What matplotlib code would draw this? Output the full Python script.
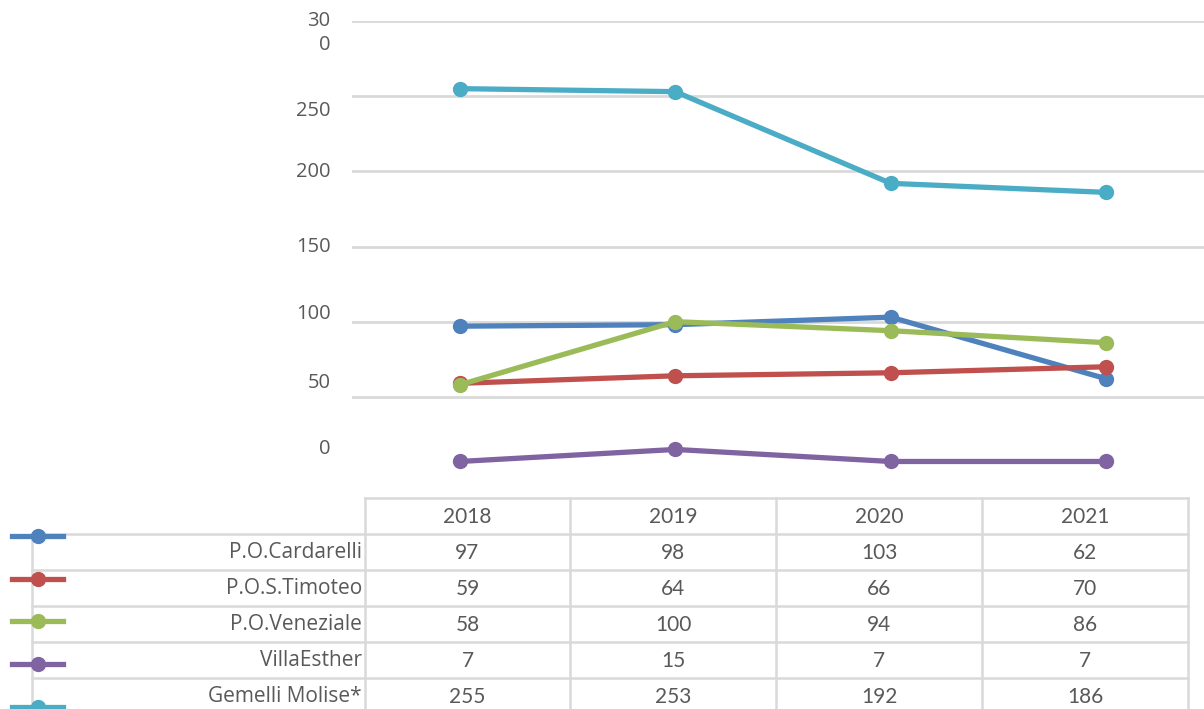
import matplotlib
matplotlib.use("Agg")
import matplotlib.pyplot as plt
from matplotlib.lines import Line2D

years = ["2018", "2019", "2020", "2021"]
series_names = ["P.O.Cardarelli", "P.O.S.Timoteo", "P.O.Veneziale", "VillaEsther", "Gemelli Molise*"]
cardarelli = [97, 98, 103, 62]
timoteo = [59, 64, 66, 70]
veneziale = [58, 100, 94, 86]
villa_esther = [7, 15, 7, 7]
gemelli = [255, 253, 192, 186]
colors = ["#4F81BD", "#C0504D", "#9BBB59", "#8064A2", "#4BACC6"]

# y labels are drawn a bit off their gridlines in the original
ytick_vals = [50, 100, 150, 200, 250, 300]
ylabel_text = ["30\n0", "250", "200", "150", "100", "50", "0"]
ylabel_pos = [292, 240, 199.5, 150, 105, 59, 15]

all_series = [cardarelli, timoteo, veneziale, villa_esther, gemelli]
W, H = 1204, 709
TXT = "#595959"
GRID = "#D9D9D9"
LABEL_FONT = ["Open Sans", "DejaVu Sans"]
NUM_FONT = ["Lato", "DejaVu Sans"]
plt.rcParams["font.family"] = LABEL_FONT

fig = plt.figure(figsize=(W / 100, H / 100), dpi=100)

# main plot area (pixel coords converted to figure fractions)
x_left, x_right = 352, 1214
y_top, y_bot = 21, 472
ax = fig.add_axes([x_left / W, 1 - y_bot / H, (x_right - x_left) / W, (y_bot - y_top) / H])
ax.set_xlim(-0.5, 3.5)
ax.set_ylim(0, 300)
ax.set_yticks(ytick_vals)
ax.set_yticklabels([])
ax.set_xticks([])
ax.tick_params(length=0)
for s in ax.spines.values():
    s.set_visible(False)
ax.grid(axis="y", color=GRID, linewidth=2)
ax.set_axisbelow(True)

xs = range(len(years))
for vals, c in zip(all_series, colors):
    ax.plot(xs, vals, color=c, lw=3.8, marker="o", ms=10, clip_on=False, zorder=3)

for t, p in zip(ylabel_text, ylabel_pos):
    ax.text(-0.6, p, t, ha="right", va="center", fontsize=14.5, color=TXT,
            multialignment="right", linespacing=1.25)

# data table drawn in pixel space
tb = fig.add_axes([0, 0, 1, 1], facecolor="none")
tb.set_xlim(0, W)
tb.set_ylim(H, 0)
tb.axis("off")

col_x = [365, 570, 776, 982, 1188]
head_top = 498
row_h = 36
rows_top = head_top + row_h
n_rows = len(series_names)
lw = 1.8

tb.plot([col_x[0], col_x[-1]], [head_top, head_top], color=GRID, lw=lw)
for i in range(n_rows + 1):
    y = rows_top + i * row_h
    tb.plot([32, col_x[-1]], [y, y], color=GRID, lw=lw)
for x in col_x:
    tb.plot([x, x], [head_top, H + 5], color=GRID, lw=lw)
tb.plot([32, 32], [rows_top, H + 5], color=GRID, lw=lw)

for j, yr in enumerate(years):
    tb.text((col_x[j] + col_x[j + 1]) / 2, head_top + row_h / 2 + 1, yr,
            ha="center", va="center", fontsize=15, color=TXT, family=NUM_FONT)

for i, (name, vals) in enumerate(zip(series_names, all_series)):
    yc = rows_top + i * row_h + row_h / 2 + 1
    tb.text(col_x[0] - 3, yc, name, ha="right", va="center", fontsize=15, color=TXT)
    for j, v in enumerate(vals):
        tb.text((col_x[j] + col_x[j + 1]) / 2, yc, str(v), ha="center", va="center",
                fontsize=15, color=TXT, family=NUM_FONT)

# legend keys beside the row labels
key_y0, key_step = 536, 42.7
for i, c in enumerate(colors):
    ky = key_y0 + i * key_step
    tb.add_line(Line2D([12, 63], [ky, ky], color=c, lw=3.8, zorder=4))
    tb.add_line(Line2D([38], [ky], color=c, marker="o", ms=10, zorder=5))

fig.savefig("out.png", dpi=100)
